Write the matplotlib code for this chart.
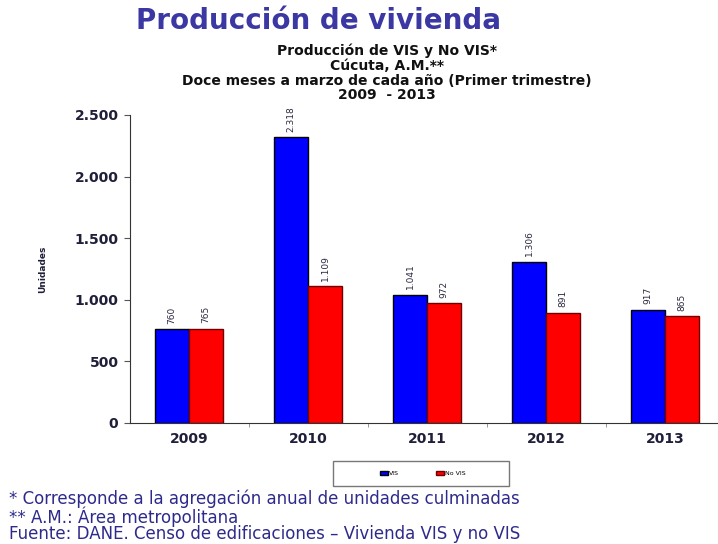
import matplotlib
matplotlib.use("Agg")
import matplotlib.pyplot as plt
import numpy as np
from matplotlib.ticker import FuncFormatter, FixedLocator
from matplotlib.patches import Rectangle

plt.rcParams['font.family'] = ['DejaVu Sans']

years = ['2009', '2010', '2011', '2012', '2013']
vis = [760, 2318, 1041, 1306, 917]
no_vis = [765, 1109, 972, 891, 865]
vis_labels = ['760', '2.318', '1.041', '1.306', '917']
no_vis_labels = ['765', '1.109', '972', '891', '865']
series_names = ['VIS', 'No VIS']

fig = plt.figure(figsize=(7.18, 5.44), dpi=100)
ax = fig.add_axes([129.5/718, 1-422.7/544, 595/718, (422.7-115)/544])

x = np.arange(len(years))
w = 0.285
b1 = ax.bar(x - w/2, vis, w, color='#0000ff', edgecolor='black', linewidth=1.0, label=series_names[0])
b2 = ax.bar(x + w/2, no_vis, w, color='#ff0000', edgecolor='#700000', linewidth=1.0, label=series_names[1])

for bars, labs in ((b1, vis_labels), (b2, no_vis_labels)):
    for r, t in zip(bars, labs):
        ax.annotate(t, (r.get_x() + r.get_width()/2, r.get_height()), xytext=(0, 4),
                    textcoords='offset points', rotation=90,
                    ha='center', va='bottom', fontsize=6.5, color='#2a2a40')

ax.set_xlim(-0.5, len(years) - 0.5)
ax.set_ylim(0, 2500)
ax.set_yticks([0, 500, 1000, 1500, 2000, 2500])
ax.yaxis.set_major_formatter(FuncFormatter(lambda v, p: f"{int(v):,}".replace(',', '.')))
ax.set_xticks(x)
ax.set_xticklabels(years, fontweight='bold')
for lab in ax.get_yticklabels():
    lab.set_fontweight('bold')
ax.xaxis.set_minor_locator(FixedLocator(x[:-1] + 0.5))
ax.tick_params(axis='x', which='major', length=0, labelsize=10, pad=7, colors='#1f1f3a')
ax.tick_params(axis='x', which='minor', length=3, color='#888888')
ax.tick_params(axis='y', length=4.5, labelsize=10, pad=3.5, colors='#1f1f3a')
ax.tick_params(axis='y', color='#555555')
for s in ['top', 'right']:
    ax.spines[s].set_visible(False)
ax.spines['left'].set_color('#333333')
ax.spines['bottom'].set_color('#333333')
ax.set_ylabel('Unidades', fontsize=6.5, fontweight='bold', color='#1f1f3a')
ax.yaxis.set_label_coords((47 - 129.5) / 595, 0.5)

# legend frame
fig.patches.append(Rectangle((333/718, 1-486/544), 176/718, 25/544, transform=fig.transFigure,
                             facecolor='white', edgecolor='#777777', linewidth=1.0, zorder=0))
leg = fig.legend(loc='center', bbox_to_anchor=(423/718, 1-473.5/544), ncol=2, fontsize=4.5,
                 frameon=False, handlelength=1.2, handleheight=0.6, columnspacing=6.0,
                 handletextpad=0.2)

fig.text(318/718, 1-21/544, 'Producción de vivienda', fontsize=20, fontweight='bold',
         color='#3b37a3', ha='center', va='center')
sub = ['Producción de VIS y No VIS*', 'Cúcuta, A.M.**',
       'Doce meses a marzo de cada año (Primer trimestre)', '2009  - 2013']
fig.text(387/718, 1-73/544, '\n'.join(sub), fontsize=10, fontweight='bold',
         color='#111111', ha='center', va='center', multialignment='center', linespacing=1.07)

notes = ['* Corresponde a la agregación anual de unidades culminadas',
         '** A.M.: Área metropolitana',
         'Fuente: DANE. Censo de edificaciones – Vivienda VIS y no VIS']
fig.text(9/718, 1-516.5/544, '\n'.join(notes), fontsize=12, color='#2e2a8c',
         ha='left', va='center', linespacing=0.9)

fig.savefig('out.png', dpi=100)
